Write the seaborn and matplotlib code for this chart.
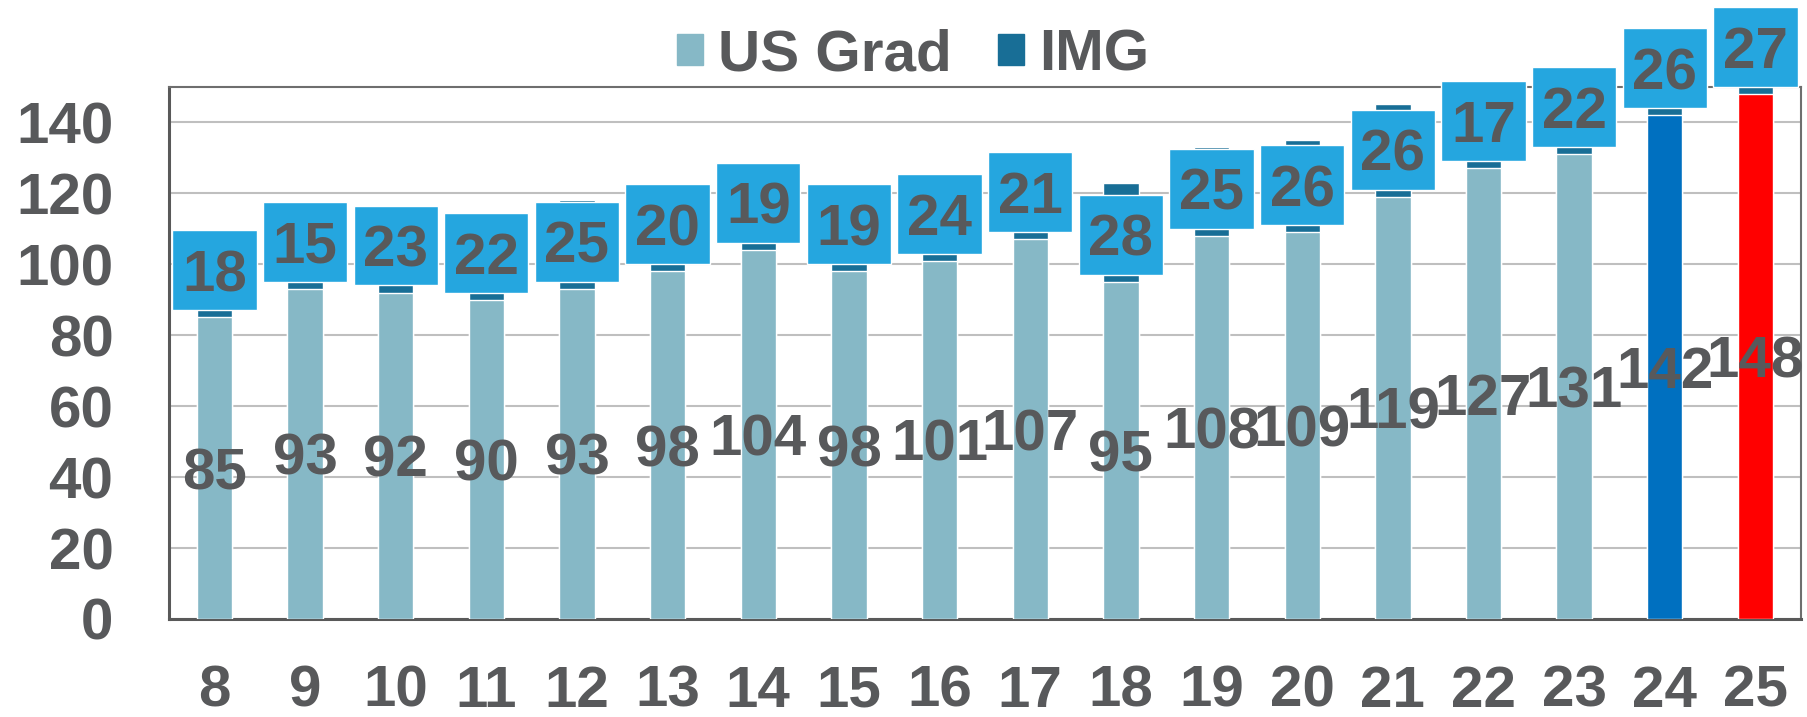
import matplotlib
matplotlib.use("Agg")
import matplotlib.pyplot as plt
from matplotlib import font_manager
from matplotlib.patches import Patch
import seaborn as sns
import pandas as pd
import numpy as np

years = ["8", "9", "10", "11", "12", "13", "14", "15", "16", "17",
         "18", "19", "20", "21", "22", "23", "24", "25"]
us_grad = [85, 93, 92, 90, 93, 98, 104, 98, 101, 107, 95, 108, 109, 119, 127, 131, 142, 148]
img = [18, 15, 23, 22, 25, 20, 19, 19, 24, 21, 28, 25, 26, 26, 17, 22, 26, 27]

US_COLOR = "#86B8C6"
IMG_COLOR = "#186E96"
BOX_COLOR = "#25A6DF"
TEXT = "#58595B"
us_colors = [US_COLOR] * 16 + ["#0070C0", "#FF0000"]

df = pd.DataFrame({"year": years, "us": us_grad, "img": img})
df["total"] = df["us"] + df["img"]

# the original text is a bit narrower than plain Arial, use the narrow cut if we have it
try:
    font_manager.findfont(font_manager.FontProperties(family="Liberation Sans Narrow"),
                          fallback_to_default=False)
    FONT = "Liberation Sans Narrow"
    FS = 46
except ValueError:
    FONT = "Liberation Sans"
    FS = 42

sns.set_style("white")
plt.rcParams["font.family"] = [FONT, "DejaVu Sans"]
plt.rcParams["font.weight"] = "bold"

fig = plt.figure(figsize=(18.08, 7.17), dpi=100)
ax = fig.add_axes([0.0935, 0.1367, 0.9025, 0.7423])

# stacked bars: totals first (IMG colour), US grad on top of it
sns.barplot(data=df, x="year", y="total", color=IMG_COLOR, width=0.39,
            ax=ax, saturation=1, zorder=2)
sns.barplot(data=df, x="year", y="us", hue="year", palette=us_colors, legend=False,
            width=0.39, ax=ax, saturation=1, zorder=3)

# IMG label boxes sit just above the US segment
box_h = 22.5
box_bottom = df["us"] + 2
boxes = ax.bar(np.arange(len(df)), [box_h] * len(df), bottom=box_bottom,
               width=0.93, color=BOX_COLOR, zorder=4)
for b in boxes:
    b.set_clip_on(False)

for i, row in df.iterrows():
    ax.text(i, row["us"] / 2, str(row["us"]), ha="center", va="center_baseline",
            fontsize=FS, fontweight="bold", color=TEXT, zorder=5)
    ax.text(i, row["us"] + 2 + box_h / 2, str(row["img"]), ha="center",
            va="center_baseline", fontsize=FS, fontweight="bold", color=TEXT,
            zorder=5, clip_on=False)

ax.set_xlim(-0.5, len(df) - 0.5)
ax.set_ylim(0, 150)
ax.set_yticks(range(0, 141, 20))
ax.set_xlabel("")
ax.set_ylabel("")
ax.yaxis.grid(True, color="#BFBFBF", linewidth=1.5, zorder=0)
ax.set_axisbelow(True)

ax.tick_params(axis="y", which="major", length=13, width=1.5, color="#BFBFBF",
               pad=27, labelsize=FS, labelcolor=TEXT)
ax.tick_params(axis="x", which="major", length=0, pad=33, labelsize=FS, labelcolor=TEXT)
ax.set_xticks(np.arange(-0.5, len(df), 1), minor=True)
ax.tick_params(axis="x", which="minor", length=13, width=1.2, color="#AAAAAA")
for lbl in ax.get_xticklabels() + ax.get_yticklabels():
    lbl.set_fontweight("bold")

for side in ["left", "bottom"]:
    ax.spines[side].set_color("#595959")
    ax.spines[side].set_linewidth(2.2)
for side in ["top", "right"]:
    ax.spines[side].set_color("#6E6E6E")
    ax.spines[side].set_linewidth(1.5)
    ax.spines[side].set_visible(True)

handles = [Patch(color=US_COLOR, label="US Grad"), Patch(color=IMG_COLOR, label="IMG")]
leg = fig.legend(handles=handles, loc="center", bbox_to_anchor=(0.505, 0.923),
                 ncol=2, frameon=False, fontsize=FS, handlelength=0.45,
                 handleheight=0.45, handletextpad=0.25, columnspacing=0.8)
for t in leg.get_texts():
    t.set_color(TEXT)
    t.set_fontweight("bold")

fig.savefig("out.png", dpi=100)
